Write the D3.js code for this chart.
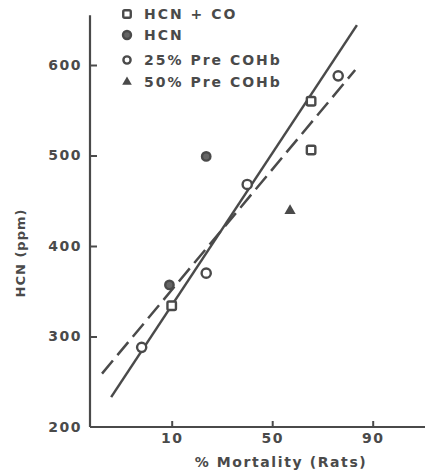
<!DOCTYPE html>
<html><head><meta charset="utf-8">
<script src="https://cdn.jsdelivr.net/npm/d3@7"></script>
<style>
html,body{margin:0;padding:0;background:#fff;}
svg{display:block;}
text{font-family:"DejaVu Sans",sans-serif;font-weight:bold;fill:#4a4a4a;}
</style></head>
<body><svg id="c" width="425" height="473"></svg>
<script>
// ---- data ----
const xTicks = [10, 50, 90];
const yTicks = [200, 300, 400, 500, 600];
const hcnCoX = [10, 69, 69];
const hcnCoY = [334, 506, 560];
const hcnX = [9.5, 20];
const hcnY = [357, 499];
const pre25X = [4.8, 20, 37.5, 80];
const pre25Y = [288, 370, 468, 588];
const pre50X = [59];
const pre50Y = [439];
const solidX = [2.0, 86];
const solidY = [233, 644];
const dashX = [1.5, 85.5];
const dashY = [259, 594.5];
const legendLabels = ["HCN + CO", "HCN", "25% Pre COHb", "50% Pre COHb"];
const xTitle = "% Mortality (Rats)";
const yTitle = "HCN (ppm)";

// inverse normal CDF (Acklam) for probit axis
function probit(pct) {
  const p = pct / 100;
  const a = [-3.969683028665376e+01, 2.209460984245205e+02, -2.759285104469687e+02, 1.383577518672690e+02, -3.066479806614716e+01, 2.506628277459239e+00];
  const b = [-5.447609879822406e+01, 1.615858368580409e+02, -1.556989798598866e+02, 6.680131188771972e+01, -1.328068155288572e+01];
  const c = [-7.784894002430293e-03, -3.223964580411365e-01, -2.400758277161838e+00, -2.549732539343734e+00, 4.374664141464968e+00, 2.938163982698783e+00];
  const d = [7.784695709041462e-03, 3.224671290700398e-01, 2.445134137142996e+00, 3.754408661907416e+00];
  const pl = 0.02425;
  let q, r;
  if (p < pl) { q = Math.sqrt(-2 * Math.log(p)); return (((((c[0]*q+c[1])*q+c[2])*q+c[3])*q+c[4])*q+c[5]) / ((((d[0]*q+d[1])*q+d[2])*q+d[3])*q+1); }
  if (p > 1 - pl) { q = Math.sqrt(-2 * Math.log(1 - p)); return -(((((c[0]*q+c[1])*q+c[2])*q+c[3])*q+c[4])*q+c[5]) / ((((d[0]*q+d[1])*q+d[2])*q+d[3])*q+1); }
  q = p - 0.5; r = q * q;
  return (((((a[0]*r+a[1])*r+a[2])*r+a[3])*r+a[4])*r+a[5])*q / (((((b[0]*r+b[1])*r+b[2])*r+b[3])*r+b[4])*r+1);
}

const ink = "#4a4a4a";
const svg = d3.select("#c");
const z10 = probit(90);
const xs = d3.scaleLinear().domain([-z10, z10]).range([171.7, 372.7]);
const x = v => xs(probit(v));
const y = d3.scaleLinear().domain([200, 600]).range([427, 65]);

// axis lines
svg.append("line").attr("x1", 90).attr("x2", 90).attr("y1", y(200)).attr("y2", y(655))
  .attr("stroke", ink).attr("stroke-width", 2.2);
svg.append("line").attr("x1", 90).attr("x2", 425).attr("y1", y(200)).attr("y2", y(200))
  .attr("stroke", ink).attr("stroke-width", 2.2);

// y axis
const gy = svg.append("g").attr("transform", "translate(90,0)")
  .call(d3.axisLeft(y).tickValues(yTicks).tickSizeInner(-7).tickSizeOuter(0).tickPadding(8));
gy.select(".domain").remove();
gy.selectAll(".tick line").attr("stroke", ink).attr("stroke-width", 2)
  .style("display", d => d === 200 ? "none" : null);
gy.selectAll(".tick text").attr("font-size", 14).attr("letter-spacing", 1.5)
  .attr("font-family", "DejaVu Sans").attr("font-weight", "bold").attr("fill", ink);

// x axis
const gx = svg.append("g").attr("transform", `translate(0,${y(200)})`)
  .call(d3.axisBottom(xs).tickValues(xTicks.map(probit)).tickFormat((d, i) => xTicks[i])
    .tickSizeInner(-6).tickSizeOuter(0).tickPadding(6));
gx.select(".domain").remove();
gx.selectAll(".tick line").attr("stroke", ink).attr("stroke-width", 2);
gx.selectAll(".tick text").attr("font-size", 14).attr("letter-spacing", 1.5)
  .attr("font-family", "DejaVu Sans").attr("font-weight", "bold").attr("fill", ink);

// titles
svg.append("text").attr("x", 281).attr("y", 467).attr("text-anchor", "middle")
  .attr("font-size", 14).attr("letter-spacing", 1.6).text(xTitle);
svg.append("text").attr("transform", "translate(25,253) rotate(-90)").attr("text-anchor", "middle")
  .attr("font-size", 13).attr("letter-spacing", 1).text(yTitle);

// fitted lines
const line = d3.line().x(d => x(d[0])).y(d => y(d[1]));
svg.append("path").datum(solidX.map((v, i) => [v, solidY[i]])).attr("d", line)
  .attr("stroke", ink).attr("stroke-width", 2.5).attr("fill", "none");
svg.append("path").datum(dashX.map((v, i) => [v, dashY[i]])).attr("d", line)
  .attr("stroke", ink).attr("stroke-width", 2.5).attr("fill", "none").attr("stroke-dasharray", "17,7");

// markers
function drawSquares(g, pts, s) {
  g.selectAll(null).data(pts).enter().append("rect")
    .attr("x", d => d[0] - s / 2).attr("y", d => d[1] - s / 2).attr("width", s).attr("height", s).attr("rx", 1.5)
    .attr("fill", "#fff").attr("stroke", ink).attr("stroke-width", 2.4);
}
function drawCircles(g, pts, r, fill) {
  g.selectAll(null).data(pts).enter().append("circle")
    .attr("cx", d => d[0]).attr("cy", d => d[1]).attr("r", r)
    .attr("fill", fill).attr("stroke", ink).attr("stroke-width", 2.4);
}
function drawTris(g, pts, size) {
  g.selectAll(null).data(pts).enter().append("path")
    .attr("transform", d => `translate(${d[0]},${d[1]})`)
    .attr("d", d3.symbol(d3.symbolTriangle, size)).attr("fill", ink);
}
const gm = svg.append("g");
drawSquares(gm, hcnCoX.map((v, i) => [x(v), y(hcnCoY[i])]), 8.5);
drawCircles(gm, hcnX.map((v, i) => [x(v), y(hcnY[i])]), 4.2, "#666");
drawCircles(gm, pre25X.map((v, i) => [x(v), y(pre25Y[i])]), 4.6, "#fff");
drawTris(gm, pre50X.map((v, i) => [x(v), y(pre50Y[i])]), 55);

// legend
const legY = [14, 35, 60, 82];
const lg = svg.append("g");
drawSquares(lg, [[127, legY[0]]], 7.5);
drawCircles(lg, [[127, legY[1]]], 4, "#666");
drawCircles(lg, [[127, legY[2]]], 3.6, "#fff");
drawTris(lg, [[127, legY[3]]], 40);
lg.selectAll(null).data(legendLabels).enter().append("text")
  .attr("x", 144).attr("y", (d, i) => legY[i] + 5).attr("font-size", 14).attr("letter-spacing", 2)
  .text(d => d);
</script></body></html>
